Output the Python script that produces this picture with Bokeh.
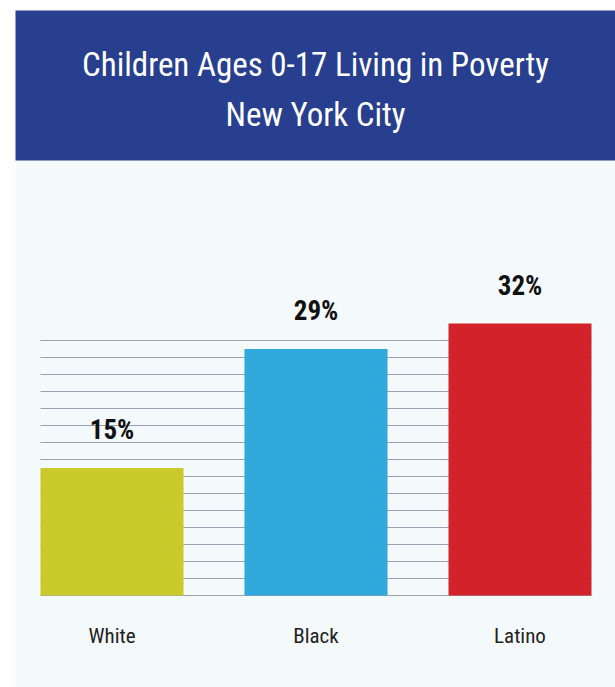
from bokeh.plotting import figure
from bokeh.models import Range1d, BoxAnnotation, Label, ColumnDataSource
from bokeh.core.properties import value
from bokeh.embed import file_html
from bokeh.resources import INLINE

# ---- data ----
categories = ["White", "Black", "Latino"]
poverty_pct = [15, 29, 32]
value_labels = ["15%", "29%", "32%"]
bar_colors = ["#cacb2b", "#2fa8dc", "#d2232a"]
grid_levels = [0, 2, 4, 6, 8, 10, 12, 14, 16, 18, 20, 22, 24, 26, 28, 30]
title_lines = ["Children Ages 0-17 Living in Poverty", "New York City"]

W, H = 615, 687
# pixel geometry of the plotting area (layout only)
X0_PX, DX_PX = 111.5, 204.0      # centre of first bar, spacing between bars
Y0_PX, KY = 595.0, 8.5           # baseline (from top), px per percentage point

def xd(px):
    return (px - X0_PX) / DX_PX

def yd(py):
    return (Y0_PX - py) / KY

FONT = "'Roboto Condensed', 'Liberation Sans Narrow', 'DejaVu Sans Condensed', sans-serif"

p = figure(width=W, height=H, output_backend="svg", toolbar_location=None,
           x_range=Range1d(xd(0), xd(W)), y_range=Range1d(yd(H), yd(0)),
           min_border=0, background_fill_color="white", border_fill_color="white",
           outline_line_color=None)
p.axis.visible = False
p.grid.visible = False

# panels
p.add_layout(BoxAnnotation(left=xd(15), right=xd(W), bottom=yd(H), top=yd(160),
                           fill_color="#f4f9fc", fill_alpha=1, line_color=None, level="underlay"))
p.add_layout(BoxAnnotation(left=xd(15), right=xd(W), bottom=yd(160), top=yd(10),
                           fill_color="#273f8e", fill_alpha=1, line_color=None, level="underlay"))

xs = list(range(len(categories)))
bw = 143.0 / DX_PX

# gridlines spanning the bar block
p.segment(x0=[xs[0] - bw / 2] * len(grid_levels), x1=[xs[-1] + bw / 2] * len(grid_levels),
          y0=grid_levels, y1=grid_levels, line_color="#9ca1b1", line_width=1.2)

src = ColumnDataSource(dict(x=xs, top=poverty_pct, color=bar_colors,
                            lab=value_labels, cat=categories))
p.vbar(x="x", top="top", bottom=0, width=bw, fill_color="color", line_color=None, source=src)

p.text(x="x", y="top", text="lab", source=src, text_font=value(FONT), text_font_size="27px",
       text_font_style="bold", text_color="#111111", text_align="center",
       text_baseline="alphabetic", y_offset=-38)
p.text(x="x", y=0, text="cat", source=src, text_font=value(FONT), text_font_size="21px",
       text_color="#222222", text_align="center", text_baseline="alphabetic", y_offset=40)

# title
for line, base in zip(title_lines, [64, 114]):
    p.add_layout(Label(x=xd(315), y=yd(base), text=line, text_font=FONT, text_font_size="33px",
                       text_color="white", text_align="center", text_baseline="alphabetic"))

open("out.html", "w").write(file_html(p, INLINE))
